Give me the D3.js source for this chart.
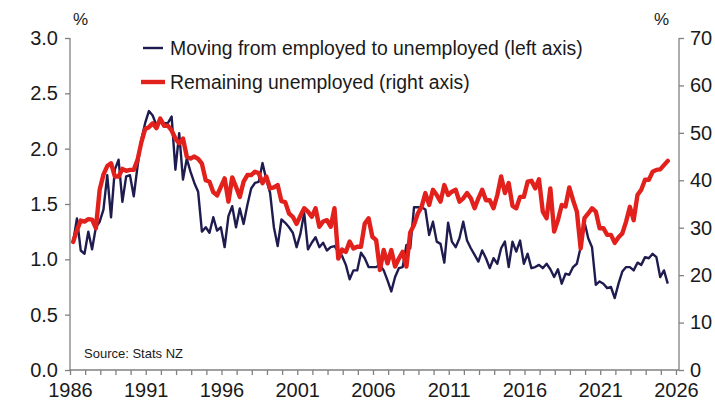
<!DOCTYPE html>
<html>
<head>
<meta charset="utf-8">
<script src="https://cdn.jsdelivr.net/npm/d3@7"></script>
<style>
  html, body { margin: 0; padding: 0; background: #fff; }
  svg { display: block; font-family: "Liberation Sans", Arial, sans-serif; }
</style>
</head>
<body>
<svg id="chart" width="715" height="402"></svg>
<script>
// Quarterly labour-market flows, March quarter 1986 onward
const startYear = 1986;
const startMonth = 3; // first observation: March quarter

// Share of employed moving into unemployment each quarter (%), left axis
const employedToUnemployed = [
  1.16, 1.37, 1.08, 1.05, 1.25, 1.09, 1.29, 1.34, 1.45, 1.76,
  1.38, 1.81, 1.90, 1.52, 1.75, 1.76, 1.57, 1.84, 2.08, 2.23,
  2.34, 2.30, 2.21, 2.26, 2.23, 2.23, 2.29, 1.81, 2.14, 1.72,
  1.91, 1.79, 1.69, 1.61, 1.25, 1.29, 1.24, 1.38, 1.26, 1.29,
  1.11, 1.39, 1.48, 1.29, 1.46, 1.32, 1.49, 1.64, 1.69, 1.70,
  1.87, 1.72, 1.60, 1.29, 1.12, 1.36, 1.33, 1.29, 1.24, 1.11,
  1.23, 1.42, 1.09, 1.15, 1.20, 1.11, 1.15, 1.08, 1.11, 1.12,
  1.07, 1.03, 0.95, 0.82, 0.90, 0.90, 1.06, 1.01, 0.93, 0.93,
  0.93, 0.95, 0.90, 0.81, 0.71, 0.84, 0.92, 0.93, 1.13, 1.10,
  1.47, 1.47, 1.47, 1.45, 1.22, 1.34, 1.16, 1.14, 0.97, 1.33,
  1.16, 1.11, 1.19, 1.34, 1.17, 1.10, 1.04, 0.98, 1.08, 1.01,
  0.92, 1.01, 0.96, 1.10, 1.16, 0.93, 1.16, 1.07, 1.17, 0.96,
  1.05, 0.92, 0.93, 0.95, 0.92, 0.96, 0.91, 0.84, 0.91, 0.78,
  0.87, 0.86, 0.93, 0.96, 1.11, 1.34, 1.19, 1.11, 0.77, 0.80,
  0.78, 0.74, 0.75, 0.65, 0.78, 0.89, 0.93, 0.93, 0.90, 0.97,
  0.95, 1.02, 1.01, 1.05, 1.02, 0.84, 0.90, 0.78
];

// Share of unemployed still unemployed the following quarter (%), right axis
const remainingUnemployed = [
  27.0, 29.5, 31.5, 31.3, 31.8, 31.7, 29.9, 38.0, 41.2, 43.0,
  43.6, 40.8, 40.8, 42.4, 42.0, 42.2, 42.2, 44.3, 48.0, 50.8,
  51.2, 52.0, 51.0, 53.0, 51.5, 51.5, 50.5, 48.8, 47.8, 48.8,
  45.0, 44.6, 45.0, 44.5, 43.5, 40.0, 39.7, 37.5, 36.8, 38.6,
  40.4, 35.5, 40.6, 38.6, 36.5, 39.7, 41.1, 41.1, 41.8, 41.5,
  39.4, 40.8, 38.3, 38.5, 39.0, 35.6, 35.4, 33.0, 32.3, 30.8,
  32.5, 34.1, 33.4, 32.3, 34.1, 30.2, 31.3, 31.6, 30.2, 34.1,
  23.5, 25.4, 24.9, 27.1, 25.6, 26.0, 26.0, 30.9, 32.0, 28.1,
  27.4, 21.1, 25.3, 22.5, 25.3, 21.8, 23.5, 24.9, 21.8, 29.0,
  30.6, 33.0, 34.4, 37.3, 34.8, 38.0, 36.9, 35.5, 39.0, 36.9,
  37.6, 38.0, 35.5, 36.2, 37.3, 36.2, 34.1, 36.2, 38.0, 35.8,
  35.8, 34.1, 36.9, 40.8, 37.3, 39.4, 34.6, 34.1, 36.5, 36.5,
  39.7, 39.9, 38.3, 40.2, 33.4, 32.0, 38.3, 29.2, 31.6, 34.8,
  34.5, 38.5, 35.8, 33.4, 25.6, 32.0, 33.0, 34.1, 33.4, 29.9,
  29.9, 28.5, 28.5, 26.8, 28.0, 28.8, 31.3, 34.4, 31.6, 36.9,
  38.0, 40.1, 40.1, 41.8, 42.2, 42.3, 43.2, 44.1
];

const leftTicks = [0, 0.5, 1.0, 1.5, 2.0, 2.5, 3.0];
const rightTicks = [0, 10, 20, 30, 40, 50, 60, 70];
const yearLabels = [1986, 1991, 1996, 2001, 2006, 2011, 2016, 2021, 2026];

const seriesNames = [
  "Moving from employed to unemployed (left axis)",
  "Remaining unemployed (right axis)"
];
const sourceNote = "Source: Stats NZ";

// Decimal-year position of each quarter (mid-month of the quarter's last month)
const quarterTime = i => startYear + (startMonth - 0.5) / 12 + i * 0.25;

const navy = "#1e1b4f";
const red = "#e2211c";
const axisGrey = "#808080";
const textColour = "#1a1a1a";

const svg = d3.select("#chart");
const plot = { left: 70, right: 679, top: 38, bottom: 370 };

const x = d3.scaleLinear().domain([1986, 2026.2]).range([plot.left, plot.right]);
const yL = d3.scaleLinear().domain([0, 3]).range([plot.bottom, plot.top]);
const yR = d3.scaleLinear().domain([0, 70]).range([plot.bottom, plot.top]);

const tickFont = 20;
const legendFont = 19.4;

// Left axis
const axL = svg.append("g").attr("transform", `translate(${plot.left},0)`)
  .call(d3.axisLeft(yL).tickValues(leftTicks).tickFormat(d3.format(".1f")).tickSize(5).tickPadding(7));
// Right axis
const axR = svg.append("g").attr("transform", `translate(${plot.right},0)`)
  .call(d3.axisRight(yR).tickValues(rightTicks).tickFormat(d3.format("d")).tickSize(5).tickPadding(6));
// Bottom axis: yearly ticks, labels every five years
const axB = svg.append("g").attr("transform", `translate(0,${plot.bottom})`)
  .call(d3.axisBottom(x).tickValues(d3.range(1986, 2027)).tickSize(5).tickPadding(8)
    .tickFormat(d => yearLabels.includes(d) ? String(d) : ""));

[axL, axR, axB].forEach(g => {
  g.select(".domain").attr("stroke", axisGrey).attr("stroke-width", 1.3);
  g.selectAll(".tick line").attr("stroke", axisGrey).attr("stroke-width", 1.3);
  g.selectAll(".tick text").attr("fill", textColour).style("font-size", tickFont + "px")
    .style("font-family", '"Liberation Sans", Arial, sans-serif');
});
// Empty labels on the unlabelled year ticks are removed
axB.selectAll(".tick text").filter(function () { return this.textContent === ""; }).remove();
// Axis lines drawn without end caps
axB.select(".domain").attr("d", `M${plot.left},0H${plot.right}`);
axL.select(".domain").attr("d", `M0,${plot.top}V${plot.bottom}`);
axR.select(".domain").attr("d", `M0,${plot.top}V${plot.bottom}`);

// Unit labels
svg.append("text").attr("x", 73).attr("y", 25).text("%")
  .attr("fill", textColour).style("font-size", "17px");
svg.append("text").attr("x", 654).attr("y", 25).text("%")
  .attr("fill", textColour).style("font-size", "17px");

// Series lines: the flow rate first, the thicker persistence line over it
const lineL = d3.line().x((d, i) => x(quarterTime(i))).y(d => yL(d));
const lineR = d3.line().x((d, i) => x(quarterTime(i))).y(d => yR(d));

svg.append("path").datum(employedToUnemployed)
  .attr("d", lineL).attr("fill", "none").attr("stroke", navy)
  .attr("stroke-width", 2.4).attr("stroke-linejoin", "round");

svg.append("path").datum(remainingUnemployed)
  .attr("d", lineR).attr("fill", "none").attr("stroke", red)
  .attr("stroke-width", 4.4).attr("stroke-linejoin", "round").attr("stroke-linecap", "round");

// Legend
const legend = svg.append("g");
legend.append("line").attr("x1", 143).attr("x2", 163).attr("y1", 48).attr("y2", 48)
  .attr("stroke", navy).attr("stroke-width", 2.4);
legend.append("text").attr("x", 170).attr("y", 55).text(seriesNames[0])
  .attr("fill", textColour).style("font-size", legendFont + "px");
legend.append("line").attr("x1", 141).attr("x2", 165).attr("y1", 82).attr("y2", 82)
  .attr("stroke", red).attr("stroke-width", 4.4);
legend.append("text").attr("x", 170).attr("y", 89).text(seriesNames[1])
  .attr("fill", textColour).style("font-size", legendFont + "px");

// Source note
svg.append("text").attr("x", 84).attr("y", 358).text(sourceNote)
  .attr("fill", textColour).style("font-size", "13px");
</script>
</body>
</html>
